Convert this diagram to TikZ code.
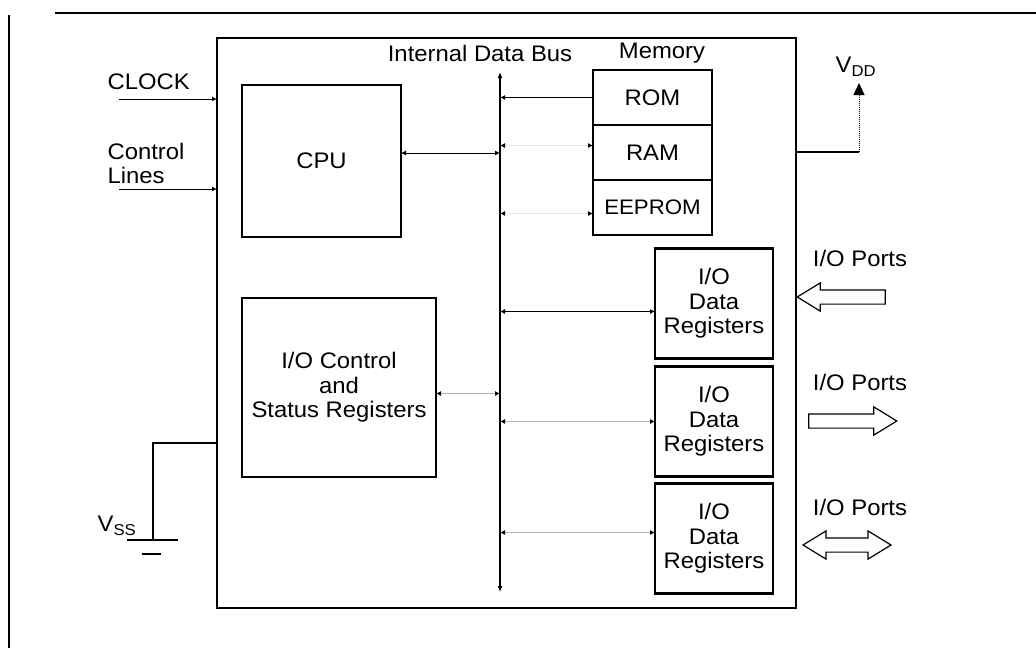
\documentclass[tikz,border=0pt]{standalone}
\usepackage{fontspec}
\setmainfont{Liberation Sans}[FakeStretch=1.06]
\usepackage{tikz}
\usetikzlibrary{arrows.meta,positioning,shapes.arrows}

\begin{document}
\begin{tikzpicture}[x=1pt,y=-1pt,
  font=\fontsize{22.5}{24.5}\selectfont,
  blk/.style={draw,line width=2.2pt,outer sep=0pt,align=center,minimum width=#1},
  mem/.style={blk=119pt,minimum height=55pt},
  iodata/.style={blk=118pt,minimum height=110pt},
  bus/.style={{Latex[length=6pt,width=5pt]}-{Latex[length=6pt,width=5pt]},line width=1.4pt},
  link/.style={{Latex[length=5pt,width=5pt,color=black]}-{Latex[length=5pt,width=5pt,color=black]},line width=0.9pt},
  faint/.style={draw=gray!#1},
  sig/.style={-{Latex[length=5pt,width=5pt]},line width=1pt},
  port/.style={draw,single arrow,line width=1.2pt,minimum height=88pt,minimum width=27pt,
               inner sep=0pt,inner ysep=6.5pt,single arrow head extend=7pt,single arrow tip angle=63},
  dport/.style={draw,double arrow,line width=1.2pt,minimum height=88pt,minimum width=27pt,
               inner sep=0pt,inner ysep=6.5pt,double arrow head extend=7pt,double arrow tip angle=63}
]
\useasboundingbox (0,0) rectangle (1036,648);
\draw[line width=1.3pt] (55,13) -- (1036,13);
\draw[line width=1.3pt] (9,15) -- (9,648);

\node[blk=579pt,minimum height=570pt,line width=2.5pt] (chip) at (506.5,323) {};
\node[blk=159pt,minimum height=152pt] (cpu) at (321.5,161) {CPU};
\node[blk=194pt,minimum height=179pt] (iocs) at (339,387.5)
  {I/O Control\\and\\Status Registers};

\node[mem] (rom) at (652.5,97.5) {ROM};
\node[mem,below=0pt of rom] (ram) {RAM};
\node[mem,below=0pt of ram,inner xsep=2pt,font=\fontsize{21}{22}\selectfont] (eeprom) {EEPROM};

\node[iodata] (io1) at (714,303.5) {I/O\\Data\\Registers};
\node[iodata,below=8pt of io1] (io2) {I/O\\Data\\Registers};
\node[iodata,below=7pt of io2] (io3) {I/O\\Data\\Registers};

\node (buslbl) at (480,53) {Internal Data Bus};
\node (memlbl) at (662,53) {Memory};

\coordinate (bustop) at (500,72);
\coordinate (busbot) at (500,592);
\draw[bus] (bustop) -- (busbot);

\draw[sig] (rom.west) -- (rom.west -| bustop);
\draw[link,faint=20] ([yshift=7pt]ram.west) -- ([yshift=7pt]ram.west -| bustop);
\draw[link,faint=20] ([yshift=-6pt]eeprom.west) -- ([yshift=-6pt]eeprom.west -| bustop);
\draw[link] ([yshift=8pt]cpu.east) -- ([yshift=8pt]cpu.east -| bustop);
\draw[link,faint=60] ([yshift=-6pt]iocs.east) -- ([yshift=-6pt]iocs.east -| bustop);
\draw[link] ([yshift=-8pt]io1.west) -- ([yshift=-8pt]io1.west -| bustop);
\draw[link,faint=60] (io2.west) -- (io2.west -| bustop);
\draw[link,faint=60] ([yshift=6pt]io3.west) -- ([yshift=6pt]io3.west -| bustop);

\node[anchor=west] (clocklbl) at (104,82) {CLOCK};
\coordinate (clkin) at (119,99);
\draw[sig] (clkin) -- (clkin -| chip.west);
\node[anchor=west,align=left] (ctllbl) at (104,163.5) {Control\\Lines};
\coordinate (ctlin) at (119,189);
\draw[sig] (ctlin) -- (ctlin -| chip.west);

\coordinate (vddpin) at (859,152);
\coordinate (vddtip) at (859,83);
\draw[line width=1.2pt] (vddpin -| chip.east) -- (vddpin);
\draw[densely dotted,line width=1pt,-{Triangle[length=12pt,width=11pt]}] (vddpin) -- (vddtip);
\node (vddlbl) at (856,67) {V\textsubscript{DD}};

\coordinate (vsspin) at (153,443);
\coordinate (gnd) at (153,540);
\draw[line width=1.2pt] (vsspin -| chip.west) -- (vsspin) -- (gnd);
\draw[line width=1.6pt] ([xshift=-26pt]gnd) -- ([xshift=25pt]gnd);
\draw[line width=1.4pt] ([xshift=-11pt,yshift=-14pt]gnd) -- ([xshift=8pt,yshift=-14pt]gnd);
\node (vsslbl) at (117,526) {V\textsubscript{SS}};

\node (p1lbl) at (860,258) {I/O Ports};
\node[port,shape border rotate=180] (p1) at (847,297) {};
\node (p2lbl) at (860,382) {I/O Ports};
\node[port] (p2) at (847,421) {};
\node (p3lbl) at (860,507) {I/O Ports};
\node[dport] (p3) at (847,545) {};
\end{tikzpicture}
\end{document}
